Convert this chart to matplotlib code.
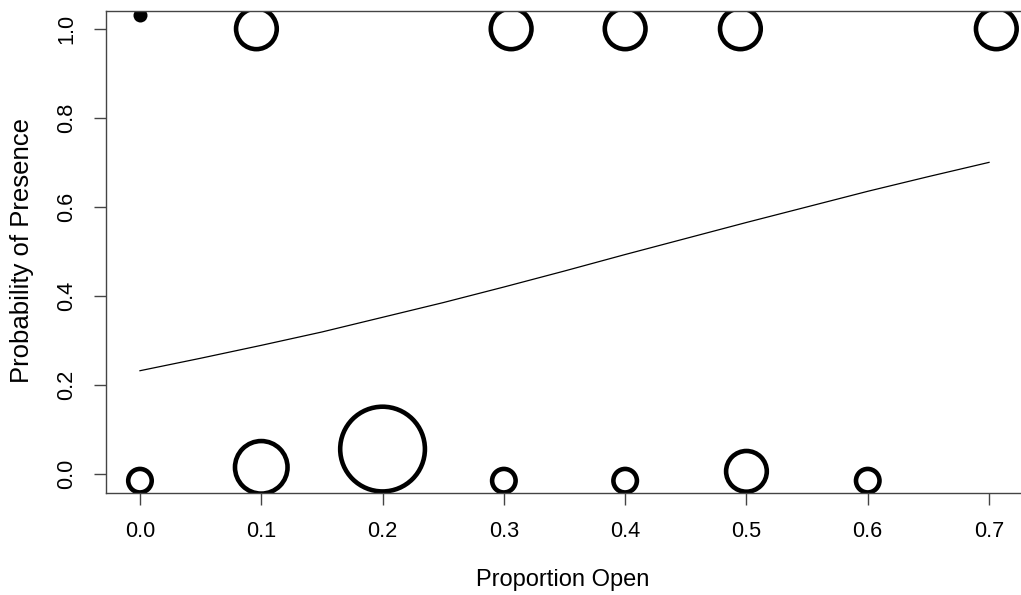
import numpy as np
import matplotlib
matplotlib.use("Agg")
import matplotlib.pyplot as plt

plt.rcParams['font.family'] = ['Liberation Sans', 'DejaVu Sans']

# observed sites (x = proportion open, y = presence, count = number of sites)
pres_x = [0.096, 0.306, 0.400, 0.495, 0.706]
pres_y = [1.0, 1.0, 1.0, 1.0, 1.0]
pres_n = [3, 3, 3, 3, 3]

abs_x = [0.0, 0.1, 0.2, 0.3, 0.4, 0.5, 0.6]
abs_y = [-0.015, 0.015, 0.056, -0.015, -0.015, 0.006, -0.015]
abs_n = [1, 5, 13, 1, 1, 3, 1]

# fitted curve
fit_x = [0.0, 0.05, 0.1, 0.15, 0.2, 0.25, 0.3, 0.35, 0.4, 0.45, 0.5, 0.55, 0.6, 0.65, 0.7]
fit_y = [0.232, 0.260, 0.289, 0.319, 0.352, 0.385, 0.420, 0.456, 0.493, 0.529, 0.565, 0.600, 0.635, 0.668, 0.700]

dot_x = [0.0]
dot_y = [1.03]

x_ticks = [0.0, 0.1, 0.2, 0.3, 0.4, 0.5, 0.6, 0.7]
y_ticks = [0.0, 0.2, 0.4, 0.6, 0.8, 1.0]

W, H = 1021, 595
fig = plt.figure(figsize=(W / 100, H / 100), dpi=100)
ax = fig.add_axes([106 / W, 1 - 492.7 / H, (1023 - 106) / W, (492.7 - 11) / H])


def sizes(n):
    d_px = 23.5 * np.sqrt(np.array(n, dtype=float))
    return (d_px * 0.72) ** 2


ring = dict(facecolors='none', edgecolors='black', linewidths=3.3, marker='o')
ax.scatter(pres_x, pres_y, s=sizes(pres_n), **ring)
ax.scatter(abs_x, abs_y, s=sizes(abs_n), **ring)
ax.plot(fit_x, fit_y, color='black', lw=0.9)
ax.scatter(dot_x, dot_y, s=(14 * 0.72) ** 2, color='black', marker='o', lw=0)

ax.set_xlim(-0.028, 0.728)
ax.set_ylim(-0.042, 1.04)
ax.set_xticks(x_ticks)
ax.set_xticklabels([f"{v:.1f}" for v in x_ticks])
ax.set_yticks(y_ticks)
ax.set_yticklabels([f"{v:.1f}" for v in y_ticks], rotation=90, va='center')

for s in ax.spines.values():
    s.set_color('#444444')
    s.set_linewidth(1.0)

ax.tick_params(axis='both', direction='out', length=8.5, width=1.0, color='#444444',
               labelsize=15.7, pad=12)

fig.text(563 / W, 1 - 580 / H, "Proportion Open", ha='center', va='center', fontsize=17)
fig.text(22 / W, 1 - 250 / H, "Probability of Presence", ha='center', va='center',
         rotation=90, fontsize=18.5)

fig.savefig("out.png", dpi=100)
